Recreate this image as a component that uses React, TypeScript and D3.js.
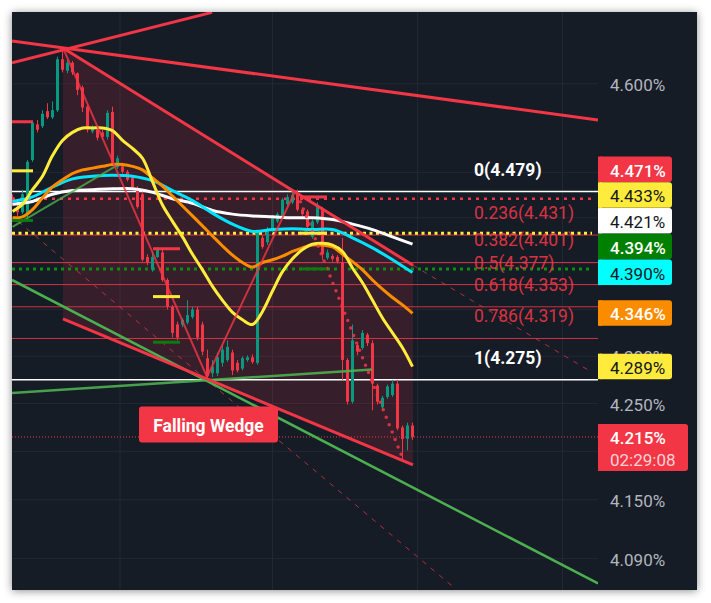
import React from 'react';
import * as d3 from 'd3';

// candles, one per bar (bar 0 = left edge of the chart)
const opens = [
  4.473, 4.462, 4.456, 4.454, 4.514, 4.554, 4.552, 4.569, 4.562, 4.570,
  4.628, 4.615, 4.624, 4.612, 4.596, 4.574, 4.546, 4.548, 4.545, 4.540,
  4.568, 4.506, 4.507, 4.501, 4.494, 4.483, 4.476, 4.407, 4.393, 4.407,
  4.412, 4.382, 4.353, 4.334, 4.334, 4.336, 4.342, 4.350, 4.334, 4.298,
  4.282, 4.282, 4.293, 4.296, 4.304, 4.293, 4.287, 4.296, 4.299, 4.293,
  4.428, 4.423, 4.435, 4.446, 4.452, 4.465, 4.467, 4.476, 4.459, 4.457,
  4.429, 4.445, 4.459, 4.406, 4.408, 4.407, 4.401, 4.296, 4.252, 4.312,
  4.309, 4.323, 4.314, 4.269, 4.246, 4.257, 4.259, 4.271, 4.225, 4.213,
  4.227,
];
const closes = [
  4.467, 4.456, 4.476, 4.512, 4.556, 4.548, 4.566, 4.562, 4.570, 4.628,
  4.616, 4.624, 4.613, 4.593, 4.573, 4.548, 4.551, 4.539, 4.540, 4.567,
  4.511, 4.516, 4.501, 4.492, 4.484, 4.462, 4.404, 4.401, 4.407, 4.415,
  4.382, 4.353, 4.325, 4.320, 4.339, 4.344, 4.350, 4.320, 4.305, 4.279,
  4.289, 4.299, 4.307, 4.310, 4.285, 4.285, 4.298, 4.299, 4.294, 4.434,
  4.418, 4.437, 4.450, 4.454, 4.470, 4.473, 4.475, 4.459, 4.454, 4.440,
  4.446, 4.462, 4.410, 4.412, 4.405, 4.402, 4.296, 4.252, 4.317, 4.305,
  4.325, 4.314, 4.271, 4.252, 4.256, 4.268, 4.271, 4.224, 4.213, 4.227,
  4.215,
];
const highs = [
  4.476, 4.467, 4.481, 4.514, 4.558, 4.559, 4.570, 4.578, 4.580, 4.631,
  4.640, 4.627, 4.626, 4.613, 4.598, 4.576, 4.553, 4.550, 4.548, 4.570,
  4.574, 4.519, 4.511, 4.503, 4.496, 4.485, 4.481, 4.410, 4.413, 4.418,
  4.415, 4.384, 4.355, 4.337, 4.341, 4.360, 4.353, 4.353, 4.337, 4.307,
  4.296, 4.304, 4.312, 4.317, 4.307, 4.296, 4.300, 4.301, 4.302, 4.437,
  4.431, 4.440, 4.452, 4.456, 4.472, 4.476, 4.481, 4.481, 4.461, 4.459,
  4.448, 4.467, 4.462, 4.415, 4.410, 4.409, 4.428, 4.298, 4.334, 4.314,
  4.328, 4.325, 4.317, 4.271, 4.258, 4.270, 4.275, 4.275, 4.227, 4.230,
  4.230,
];
const lows = [
  4.463, 4.452, 4.454, 4.450, 4.512, 4.545, 4.550, 4.560, 4.560, 4.568,
  4.613, 4.612, 4.610, 4.587, 4.568, 4.545, 4.544, 4.536, 4.537, 4.537,
  4.508, 4.504, 4.499, 4.490, 4.481, 4.460, 4.402, 4.398, 4.391, 4.406,
  4.380, 4.350, 4.320, 4.317, 4.331, 4.334, 4.340, 4.317, 4.301, 4.276,
  4.278, 4.279, 4.289, 4.294, 4.280, 4.283, 4.285, 4.294, 4.292, 4.291,
  4.416, 4.420, 4.433, 4.444, 4.449, 4.462, 4.465, 4.457, 4.452, 4.438,
  4.427, 4.443, 4.404, 4.404, 4.402, 4.400, 4.275, 4.249, 4.250, 4.301,
  4.307, 4.311, 4.243, 4.249, 4.243, 4.255, 4.257, 4.222, 4.192, 4.201,
  4.212,
];

// moving averages (yellow / orange sampled every 2 bars, cyan / white every 4)
const maYellow = [
  4.457, 4.465, 4.481, 4.496, 4.519, 4.536, 4.545, 4.550, 4.550, 4.550,
  4.547, 4.536, 4.527, 4.516, 4.490, 4.464, 4.446, 4.429, 4.410, 4.393,
  4.375, 4.360, 4.347, 4.339, 4.334, 4.348, 4.370, 4.391, 4.405, 4.415,
  4.421, 4.422, 4.420, 4.413, 4.395, 4.379, 4.360, 4.341, 4.325, 4.309,
  4.289,
];
const maOrange = [
  4.450, 4.451, 4.459, 4.472, 4.484, 4.492, 4.499, 4.503, 4.505, 4.507,
  4.509, 4.509, 4.507, 4.503, 4.494, 4.485, 4.474, 4.463, 4.452, 4.441,
  4.430, 4.419, 4.409, 4.401, 4.396, 4.401, 4.404, 4.408, 4.413, 4.417,
  4.420, 4.420, 4.418, 4.410, 4.402, 4.393, 4.382, 4.372, 4.363, 4.355,
  4.346,
];
const maCyan = [
  4.468, 4.473, 4.484, 4.493, 4.496, 4.497, 4.496, 4.491, 4.480, 4.469,
  4.455, 4.443, 4.435, 4.437, 4.438, 4.437, 4.437, 4.428, 4.417, 4.404,
  4.390,
];
const maWhite = [
  4.465, 4.468, 4.476, 4.480, 4.481, 4.482, 4.482, 4.478, 4.471, 4.466,
  4.458, 4.454, 4.452, 4.451, 4.450, 4.450, 4.448, 4.443, 4.437, 4.429,
  4.421,
];

// drawings: [bar, price] anchors
const fanHigh = [[-0.1, 4.649], [117.1, 4.559]];
const fanSteep = [[-0.1, 4.624], [39.9, 4.682]];
const wedgeTop = [[10.1, 4.641], [80.1, 4.398]];
const wedgeBottom = [[10.1, 4.340], [80.1, 4.186]];
const wedgeTopExt = [[80.1, 4.398], [115.9, 4.283]];
const swing = [[10.1, 4.641], [38.9, 4.278], [56.5, 4.479]];
const projection = [[57, 4.476], [78, 4.193]];
const channelDash = [[1.1, 4.446], [88.5, 4.06]];
const greenFall = [[-0.1, 4.382], [117.1, 4.065]];
const greenFlat = [[-0.1, 4.261], [71.9, 4.286]];
const greenRise = [[0, 4.44], [20.9, 4.508]];

// fibonacci retracement
const fibRatios = ['0', '0.236', '0.382', '0.5', '0.618', '0.786', '1'];
const fibPrices = [4.479, 4.431, 4.401, 4.377, 4.353, 4.319, 4.275];

// previous-level markers [bar from, bar to, price]
const redMarks = [[-0.1, 4.1, 4.557], [28.1, 33.5, 4.416], [57.5, 62.9, 4.473]];
const yellowMarks = [[-0.1, 4.1, 4.502], [28.1, 33.5, 4.364], [57.5, 62.9, 4.433]];
const greenMarks = [[-0.1, 4.1, 4.447], [28.1, 33.5, 4.315], [57.5, 62.9, 4.394]];

const gridPrices = [4.6, 4.5, 4.45, 4.4, 4.35, 4.3, 4.25, 4.2, 4.15, 4.09];
// tick labels not covered by the price-scale labels
const tickLabels = [4.6, 4.3, 4.25, 4.15, 4.09];
const timeTicks = [21.5, 52, 81, 110];

const scaleLabels = [4.471, 4.433, 4.421, 4.394, 4.39, 4.346, 4.289, 4.215];
const scaleBg = ['#f23645', '#ffeb3b', '#ffffff', '#008000', '#00ffff', '#fb8c00', '#ffeb3b', '#f23645'];
const scaleFg = ['#ffffff', '#131722', '#131722', '#ffffff', '#131722', '#ffffff', '#131722', '#ffffff'];
const countdown = '02:29:08';
const lastPrice = 4.215;

const RED = '#f23645';
const GREEN = '#089981';
const FONT = 'Roboto, "Noto Sans", sans-serif';

const L = 12, T = 12, R = 598, B = 590, CARD_R = 697;

const App: React.FC = () => {
  const x = d3.scaleLinear().domain([0, 80]).range([12.5, 412.5]);
  const y = d3.scaleLog().domain([4.09, 4.6]).range([558.6, 83.8]);

  const seg = (pts: number[][]) =>
    d3.line<number[]>().x(d => x(d[0])).y(d => y(d[1]))(pts) || '';
  const ma = (vals: number[], step: number) =>
    d3.line<number>()
      .x((_, i) => x(i * step))
      .y(d => y(d))
      .curve(d3.curveCatmullRom.alpha(0.5))(vals) || '';

  const wedgePoly = [wedgeTop[0], wedgeTop[1], wedgeBottom[1], wedgeBottom[0]];

  // price scale label stacking (push upward from the bottom)
  const order = scaleLabels.map((v, i) => i).sort((a, b) => scaleLabels[a] - scaleLabels[b]);
  const centers: number[] = new Array(scaleLabels.length);
  let prevTop = Infinity;
  const h = 25.5;
  order.forEach(idx => {
    let c = y(scaleLabels[idx]);
    if (c + h / 2 > prevTop) c = prevTop - h / 2;
    centers[idx] = c;
    prevTop = c - 13;
  });

  const fmt = d3.format('.3f');

  return (
    <svg width={711} height={603} style={{ position: 'absolute', left: 0, top: 0 }}
      fontFamily={FONT}>
      <defs>
        <filter id="sh" x="-5%" y="-5%" width="110%" height="110%">
          <feDropShadow dx="0" dy="1" stdDeviation="4" floodColor="#000" floodOpacity="0.45" />
        </filter>
        <clipPath id="plot"><rect x={L} y={T} width={R - L} height={B - T} /></clipPath>
      </defs>
      <rect width={711} height={603} fill="#ffffff" />
      <rect x={L} y={T} width={CARD_R - L} height={B - T} fill="#161a25" filter="url(#sh)" />

      <g clipPath="url(#plot)">
        {gridPrices.map(t => (
          <line key={t} x1={L} x2={R} y1={y(t)} y2={y(t)} stroke="#232734" strokeWidth={1} />
        ))}
        {timeTicks.map(t => (
          <line key={t} x1={x(t)} x2={x(t)} y1={T} y2={B} stroke="#232734" strokeWidth={1} />
        ))}

        <path d={seg(wedgePoly) + 'Z'} fill={RED} fillOpacity={0.15} />

        {fibPrices.map((p, i) => {
          const edge = i === 0 || i === fibPrices.length - 1;
          return (
            <line key={p} x1={L} x2={R} y1={y(p)} y2={y(p)}
              stroke={edge ? '#ffffff' : RED} strokeOpacity={edge ? 1 : 0.85}
              strokeWidth={edge ? 1.5 : 1} />
          );
        })}

        <line x1={L} x2={592} y1={y(4.471)} y2={y(4.471)} stroke={RED} strokeWidth={2.5} strokeDasharray="3 5" />
        <line x1={L} x2={592} y1={y(4.433)} y2={y(4.433)} stroke="#ffeb3b" strokeWidth={3} strokeDasharray="3 3.5" />
        <line x1={L} x2={592} y1={y(4.394)} y2={y(4.394)} stroke="#0d8f0d" strokeWidth={3} strokeDasharray="3 4" />
        <line x1={L} x2={R} y1={y(lastPrice)} y2={y(lastPrice)} stroke={RED} strokeWidth={1} strokeDasharray="1 2" />

        <path d={seg(channelDash)} stroke={RED} strokeOpacity={0.7} strokeWidth={1} strokeDasharray="5 6" fill="none" />
        <path d={seg(wedgeTopExt)} stroke={RED} strokeOpacity={0.7} strokeWidth={1} strokeDasharray="5 6" fill="none" />

        {opens.map((o, i) => {
          const c = closes[i];
          const col = c >= o ? GREEN : RED;
          const top = y(Math.max(o, c));
          const bot = y(Math.min(o, c));
          return (
            <g key={i}>
              <line x1={x(i)} x2={x(i)} y1={y(highs[i])} y2={y(lows[i])} stroke={col} strokeWidth={1} />
              <rect x={x(i) - 1.5} y={top} width={3} height={Math.max(1, bot - top)} fill={col} />
            </g>
          );
        })}

        <path d={ma(maWhite, 4)} stroke="#ffffff" strokeWidth={3} fill="none" />
        <path d={ma(maCyan, 4)} stroke="#00e5ff" strokeWidth={3} fill="none" />
        <path d={ma(maOrange, 2)} stroke="#fb8c00" strokeWidth={3} fill="none" />
        <path d={ma(maYellow, 2)} stroke="#ffeb3b" strokeWidth={3} fill="none" />

        <path d={seg(greenRise)} stroke="#4caf50" strokeOpacity={0.8} strokeWidth={2} fill="none" />
        <path d={seg(greenFall)} stroke="#4caf50" strokeWidth={2.5} fill="none" />
        <path d={seg(greenFlat)} stroke="#4caf50" strokeOpacity={0.9} strokeWidth={2.5} fill="none" />

        <path d={seg(fanHigh)} stroke={RED} strokeWidth={3} fill="none" />
        <path d={seg(fanSteep)} stroke={RED} strokeWidth={3} fill="none" />
        <path d={seg(wedgeTop)} stroke={RED} strokeWidth={3} fill="none" />
        <path d={seg(wedgeBottom)} stroke={RED} strokeWidth={3} fill="none" />
        <path d={seg(swing)} stroke={RED} strokeOpacity={0.8} strokeWidth={2} fill="none" strokeLinejoin="round" />
        <path d={seg(projection)} stroke={RED} strokeOpacity={0.85} strokeWidth={3.5} strokeLinecap="round" strokeDasharray="0 8" fill="none" />

        {redMarks.map((m, i) => (
          <line key={'r' + i} x1={x(m[0])} x2={x(m[1])} y1={y(m[2])} y2={y(m[2])} stroke={RED} strokeWidth={3} />
        ))}
        {yellowMarks.map((m, i) => (
          <line key={'y' + i} x1={x(m[0])} x2={x(m[1])} y1={y(m[2])} y2={y(m[2])} stroke="#ffeb3b" strokeWidth={3} />
        ))}
        {greenMarks.map((m, i) => (
          <line key={'g' + i} x1={x(m[0])} x2={x(m[1])} y1={y(m[2])} y2={y(m[2])} stroke="#0d7a0d" strokeWidth={3} />
        ))}

        {fibPrices.map((p, i) => {
          const edge = i === 0 || i === fibPrices.length - 1;
          return (
            <text key={'f' + p} x={474} y={y(p) - 22} dominantBaseline="central"
              fontSize={17.5} fontWeight={edge ? 700 : 400}
              fill={edge ? '#ffffff' : RED} fillOpacity={edge ? 1 : 0.9}>
              {`${fibRatios[i]}(${fmt(p)})`}
            </text>
          );
        })}

        <g transform={`translate(${x(39.2)},${y(4.228)})`}>
          <rect x={-69.5} y={-18} width={139} height={36} rx={3} fill={RED} />
          <text x={0} y={1} textAnchor="middle" dominantBaseline="central" fontSize={17.5}
            fontWeight={700} fill="#ffffff">Falling Wedge</text>
        </g>
      </g>

      {tickLabels.map(t => (
        <text key={'t' + t} x={610} y={y(t) + 1} dominantBaseline="central" fontSize={17}
          fill="#b2b5be">{`${fmt(t)}%`}</text>
      ))}

      {scaleLabels.map((v, i) => {
        const last = i === scaleLabels.length - 1;
        const c = centers[i];
        return (
          <g key={'l' + v}>
            <rect x={R} y={c - 13} width={last ? 90 : 74} height={last ? 47 : 25.5} rx={3}
              fill={scaleBg[i]} />
            <rect x={R} y={c - 13} width={4} height={last ? 47 : 25.5} fill={scaleBg[i]} />
            <text x={610} y={c + 1} dominantBaseline="central" fontSize={17} fill={scaleFg[i]}
              fontWeight={scaleFg[i] === '#ffffff' ? 500 : 400}>{`${fmt(v)}%`}</text>
            {last && (
              <text x={610} y={c + 23} dominantBaseline="central" fontSize={17} fill="#ffd3d7">
                {countdown}
              </text>
            )}
          </g>
        );
      })}
    </svg>
  );
};

export default App;
